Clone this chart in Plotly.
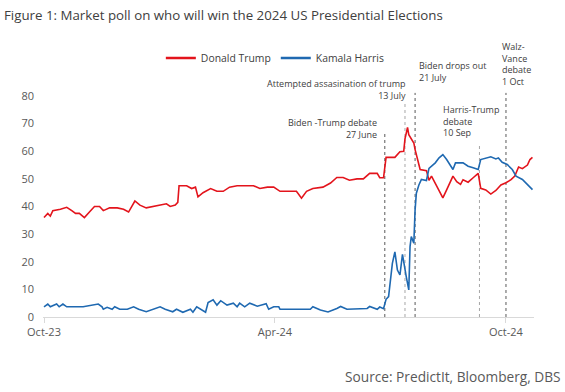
import plotly.graph_objects as go

# ---------------- data ----------------
trump_dates = [
    "2023-10-01", "2023-10-03", "2023-10-04", "2023-10-06", "2023-10-08", "2023-10-14", "2023-10-19",
    "2023-10-23", "2023-10-26", "2023-10-29", "2023-11-02", "2023-11-06", "2023-11-10", "2023-11-14",
    "2023-11-17", "2023-11-22", "2023-11-28", "2023-12-03", "2023-12-07", "2023-12-12", "2023-12-16",
    "2023-12-21", "2023-12-27", "2024-01-01", "2024-01-06", "2024-01-09", "2024-01-13", "2024-01-15",
    "2024-01-16", "2024-01-22", "2024-01-26", "2024-01-29", "2024-01-31", "2024-02-04", "2024-02-10",
    "2024-02-15", "2024-02-20", "2024-02-25", "2024-03-02", "2024-03-10", "2024-03-15", "2024-03-20",
    "2024-03-26", "2024-03-31", "2024-04-05", "2024-04-13", "2024-04-18", "2024-04-22", "2024-04-26",
    "2024-05-01", "2024-05-09", "2024-05-15", "2024-05-20", "2024-05-25", "2024-05-30", "2024-06-05",
    "2024-06-10", "2024-06-15", "2024-06-21", "2024-06-23", "2024-06-26", "2024-06-28", "2024-07-05",
    "2024-07-09", "2024-07-12", "2024-07-13", "2024-07-15", "2024-07-16", "2024-07-18", "2024-07-20",
    "2024-07-21", "2024-07-23", "2024-07-25", "2024-07-30", "2024-08-01", "2024-08-03", "2024-08-07",
    "2024-08-12", "2024-08-15", "2024-08-20", "2024-08-23", "2024-08-26", "2024-08-28", "2024-09-01",
    "2024-09-05", "2024-09-09", "2024-09-11", "2024-09-15", "2024-09-19", "2024-09-23", "2024-09-27",
    "2024-10-01", "2024-10-05", "2024-10-08", "2024-10-11", "2024-10-14", "2024-10-18", "2024-10-20",
    "2024-10-22",
]
trump_values = [
    36, 37, 37.5, 36.5, 38.5, 39, 39.7,
    38.5, 37.5, 37.5, 36, 38, 40, 40,
    38.5, 39.5, 39.5, 39, 38, 42, 40.5,
    39.5, 40, 40.5, 41, 40, 40.5, 41.5,
    47.5, 47.5, 46.5, 47, 43.5, 45, 46.5,
    45.5, 45.5, 47, 47.5, 47.5, 47.5, 46.5,
    47, 47, 45.5, 45.5, 45.5, 43, 45.5,
    46.5, 47, 48.5, 50.5, 50.5, 49.5, 50,
    50, 52, 52, 50.4, 50.4, 57.8, 57.8,
    59.8, 60, 64.5, 68.6, 66, 64.4, 63,
    60.6, 56.4, 53.4, 53, 49.5, 51, 47.3,
    43.1, 46, 51, 49, 48, 49.7, 48.8,
    50.4, 52, 46.6, 46, 44.5, 45.8, 47.8,
    48.6, 49.7, 51, 54.3, 53.7, 55, 57,
    57.8,
]

harris_dates = [
    "2023-10-01", "2023-10-04", "2023-10-06", "2023-10-11", "2023-10-13", "2023-10-16", "2023-10-19",
    "2023-11-01", "2023-11-13", "2023-11-16", "2023-11-17", "2023-11-20", "2023-11-24", "2023-11-26",
    "2023-11-30", "2023-12-06", "2023-12-11", "2023-12-15", "2023-12-21", "2023-12-27", "2024-01-01",
    "2024-01-05", "2024-01-11", "2024-01-14", "2024-01-19", "2024-01-25", "2024-01-27", "2024-01-30",
    "2024-02-03", "2024-02-06", "2024-02-08", "2024-02-12", "2024-02-15", "2024-02-18", "2024-02-23",
    "2024-02-28", "2024-03-02", "2024-03-04", "2024-03-08", "2024-03-12", "2024-03-18", "2024-03-25",
    "2024-03-27", "2024-03-31", "2024-04-04", "2024-04-05", "2024-04-29", "2024-05-01", "2024-05-07",
    "2024-05-13", "2024-05-20", "2024-05-23", "2024-05-28", "2024-06-13", "2024-06-15", "2024-06-21",
    "2024-06-23", "2024-06-26", "2024-06-28", "2024-06-30", "2024-07-03", "2024-07-05", "2024-07-07",
    "2024-07-09", "2024-07-11", "2024-07-12", "2024-07-14", "2024-07-16", "2024-07-17", "2024-07-18",
    "2024-07-20", "2024-07-21", "2024-07-22", "2024-07-24", "2024-07-26", "2024-07-30", "2024-08-01",
    "2024-08-06", "2024-08-09", "2024-08-12", "2024-08-15", "2024-08-20", "2024-08-22", "2024-08-28",
    "2024-09-01", "2024-09-05", "2024-09-09", "2024-09-11", "2024-09-19", "2024-09-23", "2024-09-25",
    "2024-09-28", "2024-10-02", "2024-10-06", "2024-10-09", "2024-10-14", "2024-10-19", "2024-10-22",
]
harris_values = [
    3.7, 4.7, 3.7, 4.7, 3.7, 4.7, 3.7,
    3.7, 4.7, 3.7, 2.8, 3.5, 2.8, 3.7,
    2.8, 2.8, 3.7, 2.8, 1.9, 2.8, 3.7,
    2.8, 1.9, 2.8, 1.7, 2.8, 1.7, 3.7,
    2.6, 1.7, 5.2, 6.2, 4.3, 5.9, 4.3,
    5, 3.7, 5, 3.7, 5, 3.9, 4.8,
    2.8, 3.7, 3.7, 2.8, 2.8, 3.7, 2.5,
    1.8, 3.1, 3.8, 2.8, 3.1, 3.8, 2.8,
    3.6, 3, 6.4, 7.4, 19.4, 23.6, 17,
    15.2, 22.7, 19.4, 14.6, 9.8, 25.5, 29.1,
    26.7, 38.8, 44.8, 47.8, 49.8, 49.4, 53.8,
    55.8, 57.6, 58.8, 57, 53.4, 55.8, 55.8,
    54.6, 54, 53.4, 57, 58, 57.2, 57.6,
    56, 55.2, 53.4, 51, 49.8, 47.4, 46.1,
]

series_names = ["Donald Trump", "Kamala Harris"]
y_ticks = [0, 10, 20, 30, 40, 50, 60, 70, 80]
x_tick_dates = ["2023-10-01", "2024-04-01", "2024-10-01"]
x_tick_labels = ["Oct-23", "Apr-24", "Oct-24"]

event_dates = ["2024-06-27", "2024-07-13", "2024-07-21", "2024-09-10", "2024-10-01"]
event_labels = [
    "Biden -Trump debate<br>27 June",
    "Attempted assasination of trump<br>13 July",
    "Biden drops out<br>21 July",
    "Harris-Trump<br>debate<br>10 Sep",
    "Walz-<br>Vance<br>debate<br>1 Oct",
]

# ---------------- styling ----------------
RED = "#e3141c"
BLUE = "#1f69b1"
FONT = "Open Sans"

fig = go.Figure()
fig.add_trace(go.Scatter(x=trump_dates, y=trump_values, mode="lines", name=series_names[0],
                         line=dict(color=RED, width=1.6), showlegend=False))
fig.add_trace(go.Scatter(x=harris_dates, y=harris_values, mode="lines", name=series_names[1],
                         line=dict(color=BLUE, width=1.6), showlegend=False))
# legend entries (thicker lines, as in the reference)
fig.add_trace(go.Scatter(x=[None], y=[None], mode="lines", name=series_names[0],
                         line=dict(color=RED, width=2.5)))
fig.add_trace(go.Scatter(x=[None], y=[None], mode="lines", name=series_names[1],
                         line=dict(color=BLUE, width=2.5)))

# event lines: (date, top in paper coords, colour)
line_tops = [0.833, 0.964, 1.014, 0.778, 1.014]
line_colors = ["#595959", "#a6a6a6", "#595959", "#a6a6a6", "#595959"]
for d, top, c in zip(event_dates, line_tops, line_colors):
    fig.add_shape(type="line", xref="x", yref="paper", x0=d, x1=d, y0=0, y1=top,
                  line=dict(color=c, width=1, dash="3px,3px"), layer="below")

ann_cfg = [
    dict(xanchor="right", align="right", xshift=-6, y=0.855),
    dict(xanchor="right", align="right", xshift=3, y=1.029),
    dict(xanchor="left", align="left", xshift=2, y=1.111),
    dict(xanchor="left", align="left", xshift=-38, y=0.885),
    dict(xanchor="left", align="left", xshift=-6, y=1.145),
]
for d, txt, cfg in zip(event_dates, event_labels, ann_cfg):
    fig.add_annotation(x=d, xref="x", yref="paper", text=txt, showarrow=False,
                       yanchor="middle", font=dict(family=FONT, size=9, color="#404040"), **cfg)

fig.add_annotation(text="Source: PredictIt, Bloomberg, DBS", xref="paper", yref="paper",
                   x=1.059, y=-0.271, xanchor="right", yanchor="middle", showarrow=False,
                   font=dict(family=FONT, size=13.7, color="#595959"))

fig.update_layout(
    width=565, height=392,
    margin=dict(l=43, r=31, t=96, b=75),
    paper_bgcolor="white", plot_bgcolor="white",
    font=dict(family=FONT, color="#595959", size=11),
    title=dict(text="Figure 1: Market poll on who will win the 2024 US Presidential Elections",
               x=0.007, xanchor="left", xref="container", y=0.962, yref="container", yanchor="middle",
               font=dict(family=FONT, size=13.3, color="#404040")),
    legend=dict(orientation="h", x=0.24, xanchor="left", y=1.172, yanchor="middle",
                font=dict(family=FONT, size=10.4, color="#404040"), bgcolor="rgba(0,0,0,0)",
                traceorder="normal"),
    xaxis=dict(type="date", range=["2023-09-30 05:00", "2024-10-23 05:00"],
               tickvals=x_tick_dates, ticktext=x_tick_labels,
               showline=True, linecolor="#d9d9d9", linewidth=1,
               ticks="outside", ticklen=5, tickcolor="#d9d9d9",
               showgrid=False, zeroline=False, tickfont=dict(size=11, color="#595959")),
    yaxis=dict(range=[0, 80], tickvals=y_ticks, showgrid=False, zeroline=False,
               showline=False, ticks="", ticklabelstandoff=8,
               tickfont=dict(size=11, color="#595959")),
)

fig.write_html("out.html", post_script="document.body.style.margin='0';",
               config={"displayModeBar": False})
